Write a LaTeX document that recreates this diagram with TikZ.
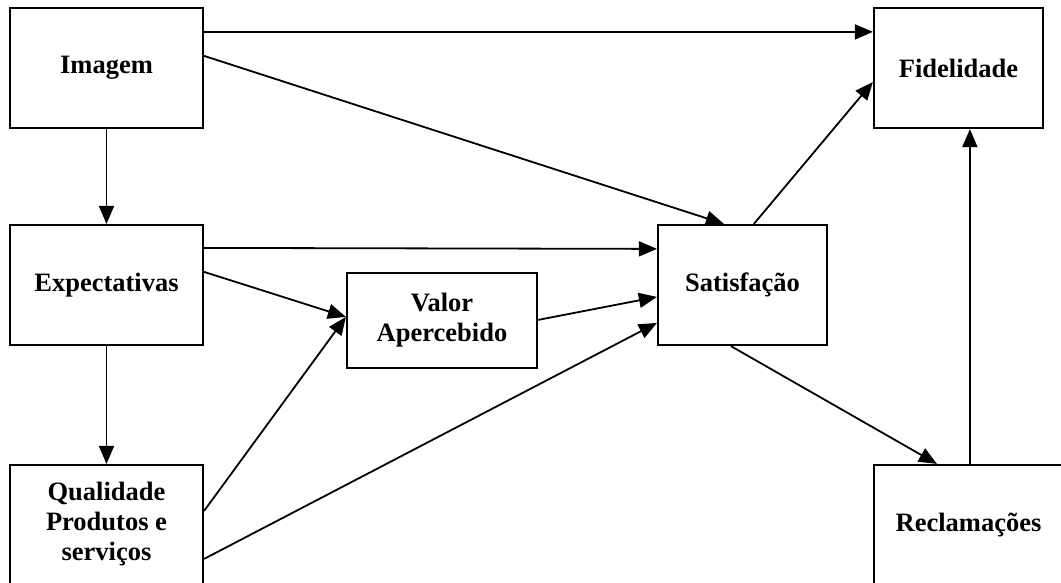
\documentclass[tikz,border=0pt]{standalone}
\usepackage{fontspec}
\setmainfont{Liberation Serif}
\usetikzlibrary{arrows.meta}
\begin{document}
\begin{tikzpicture}[x=1pt,y=-1pt,
  box/.style={draw=black,line width=2.2pt,rectangle,inner sep=0pt,align=center,
    font=\fontsize{26.5}{30}\selectfont\bfseries},
  link/.style={line width=1.8pt,-{Triangle[length=18pt,width=15pt]}}]
\path[use as bounding box,clip] (0,0) rectangle (1061,582);
\fill[white] (0,0) rectangle (1061,582);

% blocks of the model
\node[box,minimum width=193pt,minimum height=120pt] (img) at (106.5,68) {Imagem};
\node[box,minimum width=169pt,minimum height=120pt] (fid) at (958.5,68) {Fidelidade};
\node[box,minimum width=193pt,minimum height=120pt] (exp) at (106.5,285) {Expectativas};
\node[box,minimum width=190pt,minimum height=95pt] (val) at (442,320.5) {Valor\\Apercebido};
\node[box,minimum width=169pt,minimum height=120pt] (sat) at (742.5,285) {Satisfação};
\node[box,minimum width=193pt,minimum height=119pt] (qua) at (106.5,524.5) {Qualidade\\Produtos e\\serviços};
\node[box,minimum width=189pt,minimum height=119pt] (rec) at (968.5,524.5) {Reclamações};

% relations
\draw[link] ([yshift=-25pt]img.north east) -- ([yshift=-25pt]fid.north west);
\draw[link] ([yshift=-49pt]img.north east) -- ([xshift=67pt]sat.north west);
\draw[link] (img.south) -- (exp.north);
\draw[link] ([yshift=-24pt]exp.north east) -- ([yshift=-25pt]sat.north west);
\draw[link] ([yshift=-48pt]exp.north east) -- ([yshift=-45pt]val.north west);
\draw[link] (exp.south) -- (qua.north);
\draw[link] ([yshift=-47pt]qua.north east) -- ([yshift=-45pt]val.north west);
\draw[link] ([yshift=-95pt]qua.north east) -- ([yshift=-99pt]sat.north west);
\draw[link] ([yshift=-48pt]val.north east) -- ([yshift=-73pt]sat.north west);
\draw[link] ([xshift=97pt]sat.north west) -- ([yshift=-75pt]fid.north west);
\draw[link] ([xshift=74pt]sat.south west) -- ([xshift=64pt]rec.north west);
\draw[link] ([xshift=97pt]rec.north west) -- ([xshift=97pt]fid.south west);
\end{tikzpicture}
\end{document}
